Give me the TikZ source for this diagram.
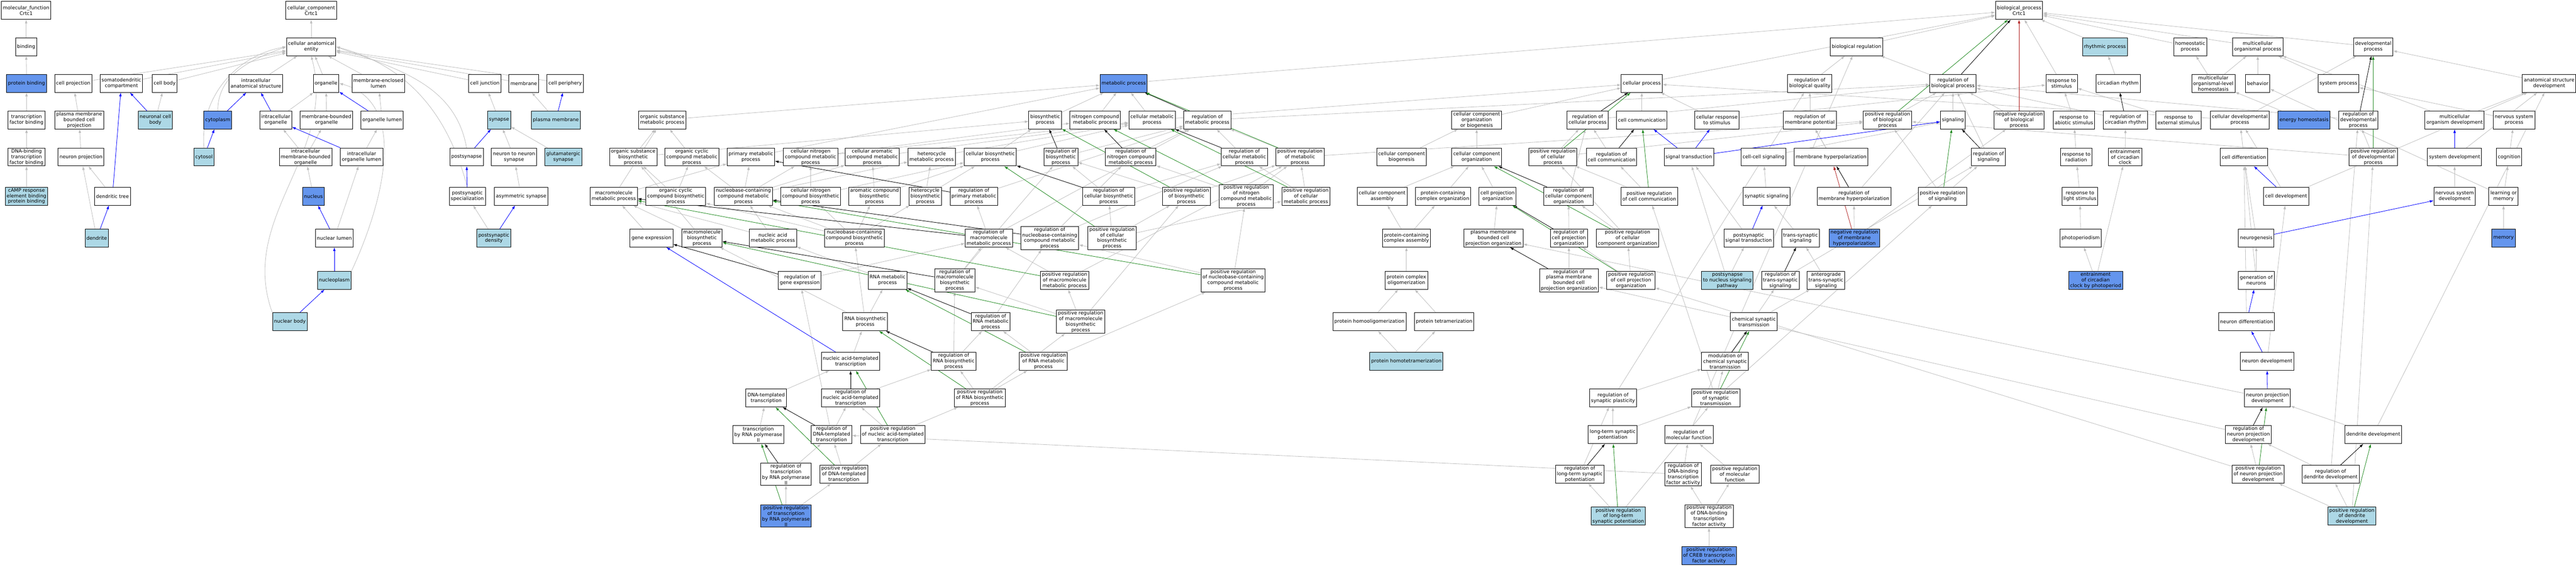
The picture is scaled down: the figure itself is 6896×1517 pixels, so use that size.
\documentclass[tikz,border=0pt]{standalone}
\usepackage{fontspec}
\setmainfont{DejaVu Sans}
\usepackage{tikz}
\usetikzlibrary{arrows.meta}
\pgfdeclarelayer{bg}
\pgfsetlayers{bg,main}
\definecolor{edgegray}{RGB}{190,190,190}
\definecolor{lightblue}{RGB}{173,216,230}
\definecolor{cornflower}{RGB}{100,149,237}
\definecolor{forest}{RGB}{34,139,34}
\definecolor{firebrick}{RGB}{178,34,34}

\begin{document}
\begin{tikzpicture}[x=1pt,y=-1pt]
\tikzstyle{goterm}=[draw,line width=1.3pt,fill=white,rectangle,align=center,inner xsep=4pt,inner ysep=2pt,minimum height=48pt,font=\fontsize{13}{15}\selectfont]
\tikzstyle{golight}=[goterm,fill=lightblue]
\tikzstyle{godark}=[goterm,fill=cornflower]
\tikzstyle{isa}=[draw=edgegray,line width=1.1pt,-{Latex[length=10pt,width=7pt]}]
\tikzstyle{partof}=[isa,draw=blue,fill=blue]
\tikzstyle{reg}=[isa,draw=black,fill=black]
\tikzstyle{posreg}=[isa,draw=forest,fill=forest]
\tikzstyle{negreg}=[isa,draw=firebrick,fill=firebrick]

\useasboundingbox (0,0) rectangle (6896,1517);
\begin{pgfonlayer}{bg}
\fill[white] (0,0) rectangle (6896,1517);
\end{pgfonlayer}

% ROOTS
\node[goterm] (mf) at (70,28) {molecular\_function\\Crtc1};
\node[goterm] (cc) at (833,28) {cellular\_component\\Crtc1};
\node[goterm] (root) at (5405,28) {biological\_process\\Crtc1};

% ROW 1
\node[goterm] (bind) at (70,125) {binding};
\node[goterm] (cae) at (833,125) {cellular anatomical\\entity};
\node[goterm] (breg) at (4970,125) {biological regulation};
\node[golight] (rhy) at (5635,125) {rhythmic process};
\node[goterm] (homp) at (5863,125) {homeostatic\\process};
\node[goterm] (mop) at (6044,125) {multicellular\\organismal process};
\node[goterm] (devp) at (6353,125) {developmental\\process};

% ROW 2
\node[godark] (pbind) at (71,223) {protein binding};
\node[goterm] (cproj) at (196,223) {cell projection};
\node[goterm] (somd) at (325,223) {somatodendritic\\compartment};
\node[goterm] (cbody) at (441,223) {cell body};
\node[goterm] (ias) at (685,223) {intracellular\\anatomical structure};
\node[goterm] (org) at (873,223) {organelle};
\node[goterm] (mel) at (1013,223) {membrane-enclosed\\lumen};
\node[goterm] (cj) at (1298,223) {cell junction};
\node[goterm] (memb) at (1402,223) {membrane};
\node[goterm] (cper) at (1513,223) {cell periphery};
\node[godark] (mp) at (3008,223) {metabolic process};
\node[goterm] (cp) at (4395,223) {cellular process};
\node[goterm] (rbq) at (4845,223) {regulation of\\biological quality};
\node[goterm] (rbio) at (5228,223) {regulation of\\biological process};
\node[goterm] (rstim) at (5519,223) {response to\\stimulus};
\node[goterm] (crh) at (5670,223) {circadian rhythm};
\node[goterm] (mloh) at (5925,223) {multicellular\\organismal-level\\homeostasis};
\node[goterm] (beh) at (6044,223) {behavior};
\node[goterm] (sysp) at (6260,223) {system process};
\node[goterm] (asd) at (6824,223) {anatomical structure\\development};

% ROW 3
\node[goterm] (tfb) at (71,321) {transcription\\factor binding};
\node[goterm] (pmbcp) at (212,321) {plasma membrane\\bounded cell\\projection};
\node[golight] (ncb) at (416,321) {neuronal cell\\body};
\node[godark] (cyto) at (583,321) {cytoplasm};
\node[goterm] (io) at (738,321) {intracellular\\organelle};
\node[goterm] (mbo) at (874,321) {membrane-bounded\\organelle};
\node[goterm] (ol) at (1023,321) {organelle lumen};
\node[golight] (syn) at (1336,321) {synapse};
\node[golight] (pm) at (1488,321) {plasma membrane};
\node[goterm] (osmp) at (1773,321) {organic substance\\metabolic process};
\node[goterm] (biop) at (2798,321) {biosynthetic\\process};
\node[goterm] (ncmp) at (2932,321) {nitrogen compound\\metabolic process};
\node[goterm] (cmp) at (3084,321) {cellular metabolic\\process};
\node[goterm] (rmp) at (3232,321) {regulation of\\metabolic process};
\node[goterm] (ccob) at (3953,321) {cellular component\\organization\\or biogenesis};
\node[goterm] (rcp) at (4250,321) {regulation of\\cellular process};
\node[goterm] (ccom) at (4395,321) {cell communication};
\node[goterm] (crs) at (4596,321) {cellular response\\to stimulus};
\node[goterm] (rmpot) at (4845,321) {regulation of\\membrane potential};
\node[goterm] (pbio) at (5053,321) {positive regulation\\of biological\\process};
\node[goterm] (sig) at (5228,321) {signaling};
\node[goterm] (nbio) at (5405,321) {negative regulation\\of biological\\process};
\node[goterm] (ras) at (5552,321) {response to\\abiotic stimulus};
\node[goterm] (rcr) at (5690,321) {regulation of\\circadian rhythm};
\node[goterm] (rext) at (5832,321) {response to\\external stimulus};
\node[goterm] (cdp) at (5996,321) {cellular developmental\\process};
\node[godark] (eh) at (6168,321) {energy homeostasis};
\node[goterm] (rdp) at (6313,321) {regulation of\\developmental\\process};
\node[goterm] (mod) at (6571,321) {multicellular\\organism development};
\node[goterm] (nsp) at (6730,321) {nervous system\\process};

% ROW 4
\node[goterm] (dbtfb) at (71,420) {DNA-binding\\transcription\\factor binding};
\node[goterm] (np) at (217,420) {neuron projection};
\node[golight] (cytosol) at (546,420) {cytosol};
\node[goterm] (imbo) at (818,420) {intracellular\\membrane-bounded\\organelle};
\node[goterm] (iol) at (968,420) {intracellular\\organelle lumen};
\node[goterm] (psyn) at (1249,420) {postsynapse};
\node[goterm] (nns) at (1376,420) {neuron to neuron\\synapse};
\node[golight] (glu) at (1508,420) {glutamatergic\\synapse};
\node[goterm] (osbp) at (1695,420) {organic substance\\biosynthetic\\process};
\node[goterm] (occmp) at (1852,420) {organic cyclic\\compound metabolic\\process};
\node[goterm] (pmp) at (2010,420) {primary metabolic\\process};
\node[goterm] (cncmp) at (2170,420) {cellular nitrogen\\compound metabolic\\process};
\node[goterm] (cacmp) at (2335,420) {cellular aromatic\\compound metabolic\\process};
\node[goterm] (hmp) at (2494,420) {heterocycle\\metabolic process};
\node[goterm] (cbp) at (2651,420) {cellular biosynthetic\\process};
\node[goterm] (rbp) at (2840,420) {regulation of\\biosynthetic\\process};
\node[goterm] (rnitmp) at (3027,420) {regulation of\\nitrogen compound\\metabolic process};
\node[goterm] (rcmp) at (3331,420) {regulation of\\cellular metabolic\\process};
\node[goterm] (prmp) at (3480,420) {positive regulation\\of metabolic\\process};
\node[goterm] (ccb) at (3752,420) {cellular component\\biogenesis};
\node[goterm] (cco) at (3953,420) {cellular component\\organization};
\node[goterm] (pcp) at (4157,420) {positive regulation\\of cellular\\process};
\node[goterm] (rcc) at (4314,420) {regulation of\\cell communication};
\node[goterm] (st) at (4521,420) {signal transduction};
\node[goterm] (ccs) at (4721,420) {cell-cell signaling};
\node[goterm] (mh) at (4902,420) {membrane hyperpolarization};
\node[goterm] (rsig) at (5323,420) {regulation of\\signaling};
\node[goterm] (rrad) at (5558,420) {response to\\radiation};
\node[goterm] (ecc) at (5689,420) {entrainment\\of circadian\\clock};
\node[goterm] (cd) at (6007,420) {cell differentiation};
\node[goterm] (pdp) at (6353,420) {positive regulation\\of developmental\\process};
\node[goterm] (sd) at (6571,420) {system development};
\node[goterm] (cog) at (6717,420) {cognition};

% ROW 5
\node[golight] (camp) at (71,525) {cAMP response\\element binding\\protein binding};
\node[goterm] (dt) at (301,525) {dendritic tree};
\node[godark] (nuc) at (839,525) {nucleus};
\node[goterm] (psspec) at (1251,525) {postsynaptic\\specialization};
\node[goterm] (asyn) at (1395,525) {asymmetric synapse};
\node[goterm] (mmp) at (1643,525) {macromolecule\\metabolic process};
\node[goterm] (occbp) at (1809,525) {organic cyclic\\compound biosynthetic\\process};
\node[goterm] (nccmp) at (1990,525) {nucleobase-containing\\compound metabolic\\process};
\node[goterm] (cncbp) at (2170,525) {cellular nitrogen\\compound biosynthetic\\process};
\node[goterm] (acbp) at (2341,525) {aromatic compound\\biosynthetic\\process};
\node[goterm] (hbp) at (2477,525) {heterocycle\\biosynthetic\\process};
\node[goterm] (rpmp) at (2607,525) {regulation of\\primary metabolic\\process};
\node[goterm] (rcbp) at (2968,525) {regulation of\\cellular biosynthetic\\process};
\node[goterm] (prbp) at (3176,525) {positive regulation\\of biosynthetic\\process};
\node[goterm] (pnitmp) at (3336,525) {positive regulation\\of nitrogen\\compound metabolic\\process};
\node[goterm] (prcmp) at (3496,525) {positive regulation\\of cellular\\metabolic process};
\node[goterm] (cca) at (3700,525) {cellular component\\assembly};
\node[goterm] (pcco) at (3863,525) {protein-containing\\complex organization};
\node[goterm] (cpo) at (4009,525) {cell projection\\organization};
\node[goterm] (rcco) at (4199,525) {regulation of\\cellular component\\organization};
\node[goterm] (prcc) at (4415,525) {positive regulation\\of cell communication};
\node[goterm] (ss) at (4729,525) {synaptic signaling};
\node[goterm] (rmh) at (4963,525) {regulation of\\membrane hyperpolarization};
\node[goterm] (psig) at (5200,525) {positive regulation\\of signaling};
\node[goterm] (rls) at (5568,525) {response to\\light stimulus};
\node[goterm] (cdev) at (6120,525) {cell development};
\node[goterm] (nsd) at (6571,525) {nervous system\\development};
\node[goterm] (lom) at (6702,525) {learning or\\memory};

% ROW 6
\node[golight] (dend) at (259,637) {dendrite};
\node[goterm] (nl) at (895,637) {nuclear lumen};
\node[golight] (psd) at (1322,637) {postsynaptic\\density};
\node[goterm] (ge) at (1744,637) {gene expression};
\node[goterm] (mbp) at (1879,637) {macromolecule\\biosynthetic\\process};
\node[goterm] (namp) at (2069,637) {nucleic acid\\metabolic process};
\node[goterm] (ncbp) at (2287,637) {nucleobase-containing\\compound biosynthetic\\process};
\node[goterm] (rmmp) at (2647,637) {regulation of\\macromolecule\\metabolic process};
\node[goterm] (rnucmp) at (2810,637) {regulation of\\nucleobase-containing\\compound metabolic\\process};
\node[goterm] (prcbp) at (2977,637) {positive regulation\\of cellular\\biosynthetic\\process};
\node[goterm] (pcca) at (3765,637) {protein-containing\\complex assembly};
\node[goterm] (pmbcpo) at (3998,637) {plasma membrane\\bounded cell\\projection organization};
\node[goterm] (rcpo) at (4200,637) {regulation of\\cell projection\\organization};
\node[goterm] (prcco) at (4357,637) {positive regulation\\of cellular\\component organization};
\node[goterm] (pst) at (4681,637) {postsynaptic\\signal transduction};
\node[goterm] (tss) at (4820,637) {trans-synaptic\\signaling};
\node[godark] (nrmh) at (4964,637) {negative regulation\\of membrane\\hyperpolarization};
\node[goterm] (pper) at (5570,637) {photoperiodism};
\node[goterm] (ngen) at (6040,637) {neurogenesis};
\node[godark] (mem) at (6702,637) {memory};

% ROW 7
\node[golight] (nplasm) at (895,750) {nucleoplasm};
\node[goterm] (rge) at (2141,750) {regulation of\\gene expression};
\node[goterm] (rnamp) at (2376,750) {RNA metabolic\\process};
\node[goterm] (rmbp) at (2556,750) {regulation of\\macromolecule\\biosynthetic\\process};
\node[goterm] (prmmp) at (2850,750) {positive regulation\\of macromolecule\\metabolic process};
\node[goterm] (pnucmp) at (3301,750) {positive regulation\\of nucleobase-containing\\compound metabolic\\process};
\node[goterm] (pco) at (3765,750) {protein complex\\oligomerization};
\node[goterm] (rpmbcpo) at (4200,750) {regulation of\\plasma membrane\\bounded cell\\projection organization};
\node[goterm] (prcpo) at (4366,750) {positive regulation\\of cell projection\\organization};
\node[golight] (ptn) at (4624,750) {postsynapse\\to nucleus signaling\\pathway};
\node[goterm] (rtss) at (4766,750) {regulation of\\trans-synaptic\\signaling};
\node[goterm] (ats) at (4888,750) {anterograde\\trans-synaptic\\signaling};
\node[godark] (ecp) at (5610,750) {entrainment\\of circadian\\clock by photoperiod};
\node[goterm] (gon) at (6040,750) {generation of\\neurons};

% ROW 8
\node[golight] (nb) at (776,861) {nuclear body};
\node[goterm] (rbs) at (2316,861) {RNA biosynthetic\\process};
\node[goterm] (rrnamp) at (2652,861) {regulation of\\RNA metabolic\\process};
\node[goterm] (prmbp) at (2893,861) {positive regulation\\of macromolecule\\biosynthetic\\process};
\node[goterm] (pho) at (3666,861) {protein homooligomerization};
\node[goterm] (ptet) at (3866,861) {protein tetramerization};
\node[goterm] (cst) at (4695,861) {chemical synaptic\\transmission};
\node[goterm] (ndiff) at (6014,861) {neuron differentiation};

% ROW 9
\node[goterm] (nat) at (2277,967) {nucleic acid-templated\\transcription};
\node[goterm] (rrnabp) at (2553,967) {regulation of\\RNA biosynthetic\\process};
\node[goterm] (prrnamp) at (2793,967) {positive regulation\\of RNA metabolic\\process};
\node[golight] (phtet) at (3765,967) {protein homotetramerization};
\node[goterm] (mcst) at (4618,967) {modulation of\\chemical synaptic\\transmission};
\node[goterm] (ndev) at (6069,967) {neuron development};

% ROW 10
\node[goterm] (dtt) at (2051,1065) {DNA-templated\\transcription};
\node[goterm] (rnatt) at (2277,1065) {regulation of\\nucleic acid-templated\\transcription};
\node[goterm] (prrnabp) at (2623,1065) {positive regulation\\of RNA biosynthetic\\process};
\node[goterm] (rsp) at (4318,1065) {regulation of\\synaptic plasticity};
\node[goterm] (prst) at (4593,1065) {positive regulation\\of synaptic\\transmission};
\node[goterm] (npd) at (6070,1065) {neuron projection\\development};

% ROW 11
\node[goterm] (tbrp) at (2030,1163) {transcription\\by RNA polymerase\\II};
\node[goterm] (rdtt) at (2226,1163) {regulation of\\DNA-templated\\transcription};
\node[goterm] (prnatt) at (2390,1163) {positive regulation\\of nucleic acid-templated\\transcription};
\node[goterm] (ltp) at (4317,1163) {long-term synaptic\\potentiation};
\node[goterm] (rmf) at (4521,1163) {regulation of\\molecular function};
\node[goterm] (rnpd) at (6019,1163) {regulation of\\neuron projection\\development};
\node[goterm] (dd) at (6353,1163) {dendrite development};

% ROW 12
\node[goterm] (rtrp) at (2104,1269) {regulation of\\transcription\\by RNA polymerase\\II};
\node[goterm] (prdtt) at (2259,1269) {positive regulation\\of DNA-templated\\transcription};
\node[goterm] (rltp) at (4229,1269) {regulation of\\long-term synaptic\\potentiation};
\node[goterm] (rdbtfa) at (4506,1269) {regulation of\\DNA-binding\\transcription\\factor activity};
\node[goterm] (prmf) at (4644,1269) {positive regulation\\of molecular\\function};
\node[goterm] (prnpd) at (6045,1269) {positive regulation\\of neuron projection\\development};
\node[goterm] (rdd) at (6239,1269) {regulation of\\dendrite development};

% ROW 13 AND 14
\node[godark] (prtrp) at (2104,1381) {positive regulation\\of transcription\\by RNA polymerase\\II};
\node[golight] (prltp) at (4332,1381) {positive regulation\\of long-term\\synaptic potentiation};
\node[goterm] (prdbtfa) at (4575,1381) {positive regulation\\of DNA-binding\\transcription\\factor activity};
\node[golight] (prdd) at (6296,1381) {positive regulation\\of dendrite\\development};
\node[godark] (prcreb) at (4575,1487) {positive regulation\\of CREB transcription\\factor activity};

\begin{pgfonlayer}{bg}
% CURVED IS-A EDGES
\draw[isa] (nb.north west) to[out=110,in=-75] (cae.south);
\draw[isa] (nplasm.north east) to[out=65,in=-15] (org.east);
\draw[isa] (cytosol.north) to[out=95,in=190] (cae.west);
\draw[isa] (cyto.north) to[out=90,in=200] (cae.west);
\draw[isa] (psyn.north) to[out=100,in=-20] (cae.east);
\draw[isa] (psspec.north) to[out=105,in=-15] (cae.east);

% IS-A EDGES
\foreach \a/\b in {cae/cc,bind/mf,pbind/bind,tfb/pbind,dbtfb/tfb,camp/dbtfb,cproj/cae,somd/cae,cbody/cae,ias/cae,org/cae,mel/cae,cj/cae,memb/cae,cper/cae,pmbcp/cproj,np/pmbcp,dt/np,dend/np,ncb/cbody,io/org,mbo/org,ol/mel,imbo/io,imbo/mbo,iol/ol,nuc/imbo,nl/iol,syn/cj,pm/memb,nns/syn,glu/syn,asyn/nns,psd/psspec,
  mp/root,cp/root,breg/root,rstim/root,rhy/root,homp/root,mop/root,devp/root,
  biop/mp,ncmp/mp,cmp/mp,osmp/mp,pmp/mp,osbp/osmp,osbp/biop,occmp/osmp,cacmp/cmp,hmp/cmp,cncmp/ncmp,cncmp/cmp,cbp/biop,cbp/cmp,mmp/osmp,mmp/pmp,occbp/osbp,occbp/occmp,nccmp/occmp,nccmp/pmp,nccmp/cncmp,nccmp/cacmp,nccmp/hmp,cncbp/cncmp,cncbp/cbp,acbp/cacmp,acbp/cbp,hbp/hmp,hbp/cbp,ge/mmp,mbp/mmp,mbp/osbp,namp/nccmp,namp/mmp,ncbp/nccmp,ncbp/occbp,ncbp/cncbp,ncbp/acbp,ncbp/hbp,rnamp/namp,rbs/rnamp,rbs/ncbp,rbs/mbp,nat/rbs,dtt/nat,tbrp/dtt,
  rmp/rbio,rbp/rmp,rnitmp/rmp,rcmp/rmp,prmp/rmp,prmp/pbio,rpmp/rmp,rcbp/rbp,rcbp/rcmp,prbp/rbp,prbp/prmp,pnitmp/rnitmp,pnitmp/prmp,prcmp/rcmp,prcmp/prmp,rmmp/rmp,rmmp/rpmp,rnucmp/rnitmp,rnucmp/rcmp,prcbp/rcbp,prcbp/prbp,prcbp/prcmp,rge/rmmp,rmbp/rmmp,rmbp/rbp,prmmp/rmmp,prmmp/prmp,pnucmp/rnucmp,pnucmp/pnitmp,rrnamp/rnucmp,prmbp/rmbp,prmbp/prmmp,prmbp/prbp,rrnabp/rrnamp,rrnabp/rmbp,prrnamp/rrnamp,prrnamp/pnucmp,rnatt/rrnabp,prrnabp/rrnabp,prrnabp/prrnamp,prrnabp/prmbp,rdtt/rnatt,rdtt/rge,prnatt/rnatt,prnatt/prrnabp,rtrp/rdtt,prdtt/rdtt,prdtt/prnatt,prtrp/rtrp,prtrp/prdtt,rdbtfa/rdtt,
  ccob/cp,ccom/cp,crs/cp,crs/rstim,rcp/rbio,pcp/rcp,pcp/pbio,rcc/rcp,ccb/ccob,cco/ccob,cca/cco,pcco/cco,cpo/cco,rcco/rcp,prcc/rcc,prcc/pcp,pcca/cca,pcca/pcco,pmbcpo/cpo,rcpo/rcco,prcco/rcco,prcco/pcp,pco/pcca,rpmbcpo/rcpo,prcpo/rcpo,prcpo/prcco,pho/pco,ptet/pco,phtet/pho,phtet/ptet,cmp/cp,cdp/cp,
  rbq/breg,rbio/breg,rmpot/rbq,pbio/rbio,sig/rbio,nbio/rbio,ras/rstim,crh/rhy,rcr/rbio,rext/rstim,mh/rmpot,ccs/sig,ss/ccs,pst/st,tss/ss,rtss/rsig,ats/tss,rmh/rmpot,rmh/rbio,nrmh/rmh,nrmh/nbio,psig/rsig,psig/pbio,rsig/rbio,rrad/ras,rls/rrad,pper/rls,ecc/rcr,ecp/pper,ecp/ecc,ptn/st,ptn/pst,
  cst/ats,mcst/rtss,rsp/mcst,rsp/rbq,prst/mcst,prst/psig,prst/prcc,ltp/rsp,ltp/prst,rltp/rsp,prltp/rltp,prltp/prst,rmf/breg,rdbtfa/rmf,prmf/rmf,prdbtfa/rdbtfa,prdbtfa/prmf,prcreb/prdbtfa,
  mloh/homp,mloh/mop,beh/mop,sysp/mop,asd/devp,cdp/devp,eh/mloh,rdp/rbio,mod/mop,mod/asd,nsp/sysp,cd/cdp,pdp/rdp,pdp/pbio,sd/asd,cog/nsp,cdev/cdp,cdev/asd,nsd/sd,lom/cog,lom/beh,mem/lom,ngen/cd,gon/ngen,gon/cd,ndiff/cd,ndev/cdev,npd/pmbcpo,rnpd/rpmbcpo,prnpd/rnpd,prnpd/prcpo,dd/npd,dd/asd,rdd/rnpd,rdd/rdp,prdd/rdd,prdd/prnpd,prdd/pdp}
  \draw[isa] (\a) -- (\b);

% PART-OF EDGES
\foreach \a/\b in {dend/dt,dt/somd,ncb/somd,cyto/ias,io/ias,cytosol/cyto,ol/org,iol/io,nl/nuc,nplasm/nl,nb/nplasm,pm/cper,psyn/syn,psspec/psyn,psd/asyn,nat/ge,st/ccom,st/crs,st/sig,pst/ss,sd/mod,cdev/cd,ngen/nsd,ndiff/gon,ndev/ndiff,npd/ndev}
  \draw[partof] (\a) -- (\b);

% REGULATES EDGES
\foreach \a/\b in {rbio/root,rbp/biop,rnitmp/ncmp,rcmp/cmp,rmp/mp,rpmp/pmp,rcbp/cbp,rmmp/mmp,rnucmp/nccmp,rge/ge,rmbp/mbp,rrnamp/rnamp,rrnabp/rbs,rnatt/nat,rdtt/dtt,rtrp/tbrp,rcp/cp,rcc/ccom,rcco/cco,rcpo/cpo,rpmbcpo/pmbcpo,rcr/crh,rsig/sig,rtss/tss,rmh/mh,mcst/cst,rltp/ltp,rdp/devp,rdd/dd,rnpd/npd}
  \draw[reg] (\a) -- (\b);

% POSITIVELY REGULATES EDGES
\foreach \a/\b in {pbio/root,prmp/mp,prbp/biop,pnitmp/ncmp,prcmp/cmp,prcbp/cbp,prmmp/mmp,pnucmp/nccmp,prmbp/mbp,prrnamp/rnamp,prrnabp/rbs,prnatt/nat,prdtt/dtt,prtrp/tbrp,pcp/cp,prcc/ccom,prcco/cco,prcpo/cpo,psig/sig,prst/cst,prltp/ltp,pdp/devp,prdd/dd,prnpd/npd}
  \draw[posreg] (\a) -- (\b);

% NEGATIVELY REGULATES EDGES
\foreach \a/\b in {nbio/root,nrmh/mh}
  \draw[negreg] (\a) -- (\b);
\end{pgfonlayer}

\end{tikzpicture}
\end{document}
